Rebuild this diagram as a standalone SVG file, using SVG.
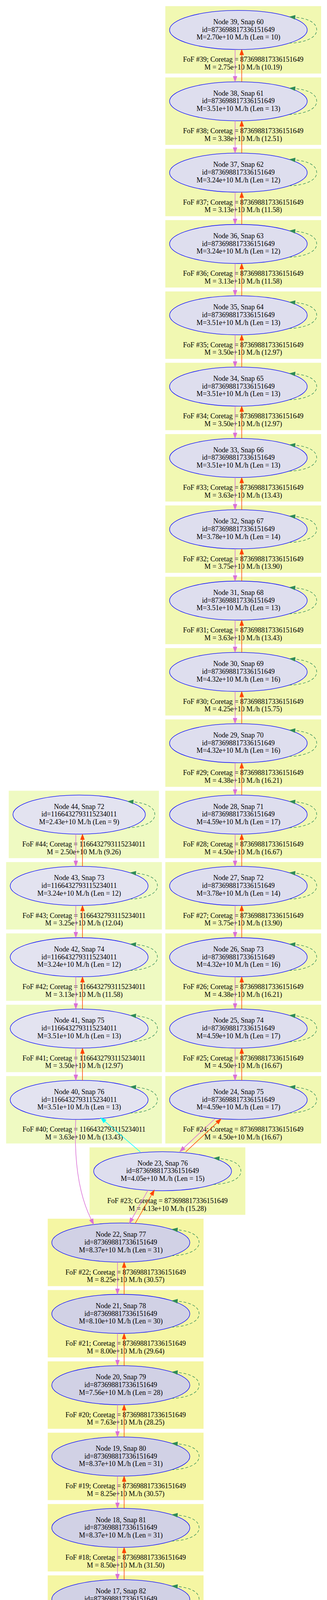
<svg xmlns="http://www.w3.org/2000/svg" xmlns:xlink="http://www.w3.org/1999/xlink" width="837" height="7326" viewBox="0 0 837 7326">
<style>
.c1{fill:#F1F8B2}
.c2{fill:#EFFAC2}
.c3{fill:#F5F6A3}
.e1{fill:#DEDEEE;stroke:#0000FF;stroke-width:1.3}
.e2{fill:#E3E3F0;stroke:#0000FF;stroke-width:1.3}
.e3{fill:#D1D1E5;stroke:#0000FF;stroke-width:1.3}
text{font-family:"Liberation Serif","Times New Roman",serif;font-size:18px;fill:#000;text-anchor:middle}
.pk{fill:none;stroke:#DA70D6;stroke-width:1.5;marker-end:url(#ap)}
.rd{fill:none;stroke:#FF4500;stroke-width:1.5;marker-end:url(#ar)}
.cy{fill:none;stroke:#00FFFF;stroke-width:1.5;marker-end:url(#ac)}
.lp{fill:none;stroke:#2E8B57;stroke-width:1.3;stroke-dasharray:7,5;marker-end:url(#ag)}
</style>
<defs>
<marker id="ap" markerUnits="userSpaceOnUse" markerWidth="16" markerHeight="12" viewBox="0 -6 16 12" refX="0" refY="0" orient="auto" overflow="visible"><path d="M0,-5L14,0L0,5Z" fill="#DA70D6" stroke="#DA70D6"/></marker>
<marker id="ar" markerUnits="userSpaceOnUse" markerWidth="16" markerHeight="12" viewBox="0 -6 16 12" refX="0" refY="0" orient="auto" overflow="visible"><path d="M0,-5L14,0L0,5Z" fill="#FF4500" stroke="#FF4500"/></marker>
<marker id="ac" markerUnits="userSpaceOnUse" markerWidth="16" markerHeight="12" viewBox="0 -6 16 12" refX="0" refY="0" orient="auto" overflow="visible"><path d="M0,-5L14,0L0,5Z" fill="#00FFFF" stroke="#00FFFF"/></marker>
<marker id="ag" markerUnits="userSpaceOnUse" markerWidth="16" markerHeight="12" viewBox="0 -6 16 12" refX="0" refY="0" orient="auto" overflow="visible"><path d="M0,-5L14,0L0,5Z" fill="#2E8B57" stroke="#2E8B57"/></marker>
<path id="vp" class="pk" d="M-8.5,50V118.6"/>
<path id="vr" class="rd" d="M8.5,132.6V64"/>
<path id="lp" class="lp" d="M129.7,33.8C165,33 200.4,22 200.4,0C200.4,-20 175,-30 145,-32.5"/>
</defs>

<g id="nodes">
<g id="n39" transform="translate(610.2,76.7)"><rect class="c1" x="-187" y="-61" width="398.8" height="172.6"/><ellipse class="e1" rx="176.2" ry="50"/><text><tspan x="0" y="-14.8">Node 39, Snap 60</tspan><tspan x="0" y="5">id=873698817336151649</tspan><tspan x="0" y="24.8">M=2.70e+10 M./h (Len = 10)</tspan></text><text><tspan x="12.4" y="81.7">FoF #39; Coretag = 873698817336151649</tspan><tspan x="12.4" y="101.4">M = 2.75e+10 M./h (10.19)</tspan></text></g>
<g id="n38" transform="translate(610.2,259.3)"><rect class="c1" x="-187" y="-61" width="398.8" height="172.6"/><ellipse class="e1" rx="176.2" ry="50"/><text><tspan x="0" y="-14.8">Node 38, Snap 61</tspan><tspan x="0" y="5">id=873698817336151649</tspan><tspan x="0" y="24.8">M=3.51e+10 M./h (Len = 13)</tspan></text><text><tspan x="12.4" y="81.7">FoF #38; Coretag = 873698817336151649</tspan><tspan x="12.4" y="101.4">M = 3.38e+10 M./h (12.51)</tspan></text></g>
<g id="n37" transform="translate(610.2,441.9)"><rect class="c1" x="-187" y="-61" width="398.8" height="172.6"/><ellipse class="e1" rx="176.2" ry="50"/><text><tspan x="0" y="-14.8">Node 37, Snap 62</tspan><tspan x="0" y="5">id=873698817336151649</tspan><tspan x="0" y="24.8">M=3.24e+10 M./h (Len = 12)</tspan></text><text><tspan x="12.4" y="81.7">FoF #37; Coretag = 873698817336151649</tspan><tspan x="12.4" y="101.4">M = 3.13e+10 M./h (11.58)</tspan></text></g>
<g id="n36" transform="translate(610.2,624.5)"><rect class="c1" x="-187" y="-61" width="398.8" height="172.6"/><ellipse class="e1" rx="176.2" ry="50"/><text><tspan x="0" y="-14.8">Node 36, Snap 63</tspan><tspan x="0" y="5">id=873698817336151649</tspan><tspan x="0" y="24.8">M=3.24e+10 M./h (Len = 12)</tspan></text><text><tspan x="12.4" y="81.7">FoF #36; Coretag = 873698817336151649</tspan><tspan x="12.4" y="101.4">M = 3.13e+10 M./h (11.58)</tspan></text></g>
<g id="n35" transform="translate(610.2,807.1)"><rect class="c1" x="-187" y="-61" width="398.8" height="172.6"/><ellipse class="e1" rx="176.2" ry="50"/><text><tspan x="0" y="-14.8">Node 35, Snap 64</tspan><tspan x="0" y="5">id=873698817336151649</tspan><tspan x="0" y="24.8">M=3.51e+10 M./h (Len = 13)</tspan></text><text><tspan x="12.4" y="81.7">FoF #35; Coretag = 873698817336151649</tspan><tspan x="12.4" y="101.4">M = 3.50e+10 M./h (12.97)</tspan></text></g>
<g id="n34" transform="translate(610.2,989.7)"><rect class="c1" x="-187" y="-61" width="398.8" height="172.6"/><ellipse class="e1" rx="176.2" ry="50"/><text><tspan x="0" y="-14.8">Node 34, Snap 65</tspan><tspan x="0" y="5">id=873698817336151649</tspan><tspan x="0" y="24.8">M=3.51e+10 M./h (Len = 13)</tspan></text><text><tspan x="12.4" y="81.7">FoF #34; Coretag = 873698817336151649</tspan><tspan x="12.4" y="101.4">M = 3.50e+10 M./h (12.97)</tspan></text></g>
<g id="n33" transform="translate(610.2,1172.3)"><rect class="c1" x="-187" y="-61" width="398.8" height="172.6"/><ellipse class="e1" rx="176.2" ry="50"/><text><tspan x="0" y="-14.8">Node 33, Snap 66</tspan><tspan x="0" y="5">id=873698817336151649</tspan><tspan x="0" y="24.8">M=3.51e+10 M./h (Len = 13)</tspan></text><text><tspan x="12.4" y="81.7">FoF #33; Coretag = 873698817336151649</tspan><tspan x="12.4" y="101.4">M = 3.63e+10 M./h (13.43)</tspan></text></g>
<g id="n32" transform="translate(610.2,1354.9)"><rect class="c1" x="-187" y="-61" width="398.8" height="172.6"/><ellipse class="e1" rx="176.2" ry="50"/><text><tspan x="0" y="-14.8">Node 32, Snap 67</tspan><tspan x="0" y="5">id=873698817336151649</tspan><tspan x="0" y="24.8">M=3.78e+10 M./h (Len = 14)</tspan></text><text><tspan x="12.4" y="81.7">FoF #32; Coretag = 873698817336151649</tspan><tspan x="12.4" y="101.4">M = 3.75e+10 M./h (13.90)</tspan></text></g>
<g id="n31" transform="translate(610.2,1537.5)"><rect class="c1" x="-187" y="-61" width="398.8" height="172.6"/><ellipse class="e1" rx="176.2" ry="50"/><text><tspan x="0" y="-14.8">Node 31, Snap 68</tspan><tspan x="0" y="5">id=873698817336151649</tspan><tspan x="0" y="24.8">M=3.51e+10 M./h (Len = 13)</tspan></text><text><tspan x="12.4" y="81.7">FoF #31; Coretag = 873698817336151649</tspan><tspan x="12.4" y="101.4">M = 3.63e+10 M./h (13.43)</tspan></text></g>
<g id="n30" transform="translate(610.2,1720.1)"><rect class="c1" x="-187" y="-61" width="398.8" height="172.6"/><ellipse class="e1" rx="176.2" ry="50"/><text><tspan x="0" y="-14.8">Node 30, Snap 69</tspan><tspan x="0" y="5">id=873698817336151649</tspan><tspan x="0" y="24.8">M=4.32e+10 M./h (Len = 16)</tspan></text><text><tspan x="12.4" y="81.7">FoF #30; Coretag = 873698817336151649</tspan><tspan x="12.4" y="101.4">M = 4.25e+10 M./h (15.75)</tspan></text></g>
<g id="n29" transform="translate(610.2,1902.7)"><rect class="c1" x="-187" y="-61" width="398.8" height="172.6"/><ellipse class="e1" rx="176.2" ry="50"/><text><tspan x="0" y="-14.8">Node 29, Snap 70</tspan><tspan x="0" y="5">id=873698817336151649</tspan><tspan x="0" y="24.8">M=4.32e+10 M./h (Len = 16)</tspan></text><text><tspan x="12.4" y="81.7">FoF #29; Coretag = 873698817336151649</tspan><tspan x="12.4" y="101.4">M = 4.38e+10 M./h (16.21)</tspan></text></g>
<g id="n28" transform="translate(610.2,2085.3)"><rect class="c1" x="-187" y="-61" width="398.8" height="172.6"/><ellipse class="e1" rx="176.2" ry="50"/><text><tspan x="0" y="-14.8">Node 28, Snap 71</tspan><tspan x="0" y="5">id=873698817336151649</tspan><tspan x="0" y="24.8">M=4.59e+10 M./h (Len = 17)</tspan></text><text><tspan x="12.4" y="81.7">FoF #28; Coretag = 873698817336151649</tspan><tspan x="12.4" y="101.4">M = 4.50e+10 M./h (16.67)</tspan></text></g>
<g id="n27" transform="translate(610.2,2267.9)"><rect class="c1" x="-187" y="-61" width="398.8" height="172.6"/><ellipse class="e1" rx="176.2" ry="50"/><text><tspan x="0" y="-14.8">Node 27, Snap 72</tspan><tspan x="0" y="5">id=873698817336151649</tspan><tspan x="0" y="24.8">M=3.78e+10 M./h (Len = 14)</tspan></text><text><tspan x="12.4" y="81.7">FoF #27; Coretag = 873698817336151649</tspan><tspan x="12.4" y="101.4">M = 3.75e+10 M./h (13.90)</tspan></text></g>
<g id="n26" transform="translate(610.2,2450.5)"><rect class="c1" x="-187" y="-61" width="398.8" height="172.6"/><ellipse class="e1" rx="176.2" ry="50"/><text><tspan x="0" y="-14.8">Node 26, Snap 73</tspan><tspan x="0" y="5">id=873698817336151649</tspan><tspan x="0" y="24.8">M=4.32e+10 M./h (Len = 16)</tspan></text><text><tspan x="12.4" y="81.7">FoF #26; Coretag = 873698817336151649</tspan><tspan x="12.4" y="101.4">M = 4.38e+10 M./h (16.21)</tspan></text></g>
<g id="n25" transform="translate(610.2,2633.1)"><rect class="c1" x="-187" y="-61" width="398.8" height="172.6"/><ellipse class="e1" rx="176.2" ry="50"/><text><tspan x="0" y="-14.8">Node 25, Snap 74</tspan><tspan x="0" y="5">id=873698817336151649</tspan><tspan x="0" y="24.8">M=4.59e+10 M./h (Len = 17)</tspan></text><text><tspan x="12.4" y="81.7">FoF #25; Coretag = 873698817336151649</tspan><tspan x="12.4" y="101.4">M = 4.50e+10 M./h (16.67)</tspan></text></g>
<g id="n24" transform="translate(610.2,2815.7)"><rect class="c1" x="-187" y="-61" width="398.8" height="172.6"/><ellipse class="e1" rx="176.2" ry="50"/><text><tspan x="0" y="-14.8">Node 24, Snap 75</tspan><tspan x="0" y="5">id=873698817336151649</tspan><tspan x="0" y="24.8">M=4.59e+10 M./h (Len = 17)</tspan></text><text><tspan x="12.4" y="81.7">FoF #24; Coretag = 873698817336151649</tspan><tspan x="12.4" y="101.4">M = 4.50e+10 M./h (16.67)</tspan></text></g>

<g id="n44" transform="translate(202.6,2085.3)"><rect class="c2" x="-180.2" y="-61" width="384.4" height="172.6"/><ellipse class="e2" rx="169.5" ry="50"/><text><tspan x="0" y="-14.8">Node 44, Snap 72</tspan><tspan x="0" y="5">id=1166432793115234011</tspan><tspan x="0" y="24.8">M=2.43e+10 M./h (Len = 9)</tspan></text><text><tspan x="12" y="81.7">FoF #44; Coretag = 1166432793115234011</tspan><tspan x="12" y="101.4">M = 2.50e+10 M./h (9.26)</tspan></text></g>
<g id="n43" transform="translate(202.6,2267.9)"><rect class="c2" x="-187" y="-61" width="398.8" height="172.6"/><ellipse class="e2" rx="176.5" ry="50"/><text><tspan x="0" y="-14.8">Node 43, Snap 73</tspan><tspan x="0" y="5">id=1166432793115234011</tspan><tspan x="0" y="24.8">M=3.24e+10 M./h (Len = 12)</tspan></text><text><tspan x="12.4" y="81.7">FoF #43; Coretag = 1166432793115234011</tspan><tspan x="12.4" y="101.4">M = 3.25e+10 M./h (12.04)</tspan></text></g>
<g id="n42" transform="translate(202.6,2450.5)"><rect class="c2" x="-187" y="-61" width="398.8" height="172.6"/><ellipse class="e2" rx="176.5" ry="50"/><text><tspan x="0" y="-14.8">Node 42, Snap 74</tspan><tspan x="0" y="5">id=1166432793115234011</tspan><tspan x="0" y="24.8">M=3.24e+10 M./h (Len = 12)</tspan></text><text><tspan x="12.4" y="81.7">FoF #42; Coretag = 1166432793115234011</tspan><tspan x="12.4" y="101.4">M = 3.13e+10 M./h (11.58)</tspan></text></g>
<g id="n41" transform="translate(202.6,2633.1)"><rect class="c2" x="-187" y="-61" width="398.8" height="172.6"/><ellipse class="e2" rx="176.5" ry="50"/><text><tspan x="0" y="-14.8">Node 41, Snap 75</tspan><tspan x="0" y="5">id=1166432793115234011</tspan><tspan x="0" y="24.8">M=3.51e+10 M./h (Len = 13)</tspan></text><text><tspan x="12.4" y="81.7">FoF #41; Coretag = 1166432793115234011</tspan><tspan x="12.4" y="101.4">M = 3.50e+10 M./h (12.97)</tspan></text></g>
<g id="n40" transform="translate(202.6,2815.7)"><rect class="c2" x="-187" y="-61" width="398.8" height="172.6"/><ellipse class="e2" rx="176.5" ry="50"/><text><tspan x="0" y="-14.8">Node 40, Snap 76</tspan><tspan x="0" y="5">id=1166432793115234011</tspan><tspan x="0" y="24.8">M=3.51e+10 M./h (Len = 13)</tspan></text><text><tspan x="12.4" y="81.7">FoF #40; Coretag = 1166432793115234011</tspan><tspan x="12.4" y="101.4">M = 3.63e+10 M./h (13.43)</tspan></text></g>

<g id="n23" transform="translate(416.2,2998.3)"><rect class="c1" x="-187" y="-61" width="398.8" height="172.6"/><ellipse class="e1" rx="176.5" ry="50"/><text><tspan x="0" y="-14.8">Node 23, Snap 76</tspan><tspan x="0" y="5">id=873698817336151649</tspan><tspan x="0" y="24.8">M=4.05e+10 M./h (Len = 15)</tspan></text><text><tspan x="12.4" y="81.7">FoF #23; Coretag = 873698817336151649</tspan><tspan x="12.4" y="101.4">M = 4.13e+10 M./h (15.28)</tspan></text></g>

<g id="n22" transform="translate(309.2,3180.9)"><rect class="c3" x="-187" y="-61" width="398.8" height="172.6"/><ellipse class="e3" rx="176.7" ry="50"/><text><tspan x="0" y="-14.8">Node 22, Snap 77</tspan><tspan x="0" y="5">id=873698817336151649</tspan><tspan x="0" y="24.8">M=8.37e+10 M./h (Len = 31)</tspan></text><text><tspan x="12.4" y="81.7">FoF #22; Coretag = 873698817336151649</tspan><tspan x="12.4" y="101.4">M = 8.25e+10 M./h (30.57)</tspan></text></g>
<g id="n21" transform="translate(309.2,3363.5)"><rect class="c3" x="-187" y="-61" width="398.8" height="172.6"/><ellipse class="e3" rx="176.7" ry="50"/><text><tspan x="0" y="-14.8">Node 21, Snap 78</tspan><tspan x="0" y="5">id=873698817336151649</tspan><tspan x="0" y="24.8">M=8.10e+10 M./h (Len = 30)</tspan></text><text><tspan x="12.4" y="81.7">FoF #21; Coretag = 873698817336151649</tspan><tspan x="12.4" y="101.4">M = 8.00e+10 M./h (29.64)</tspan></text></g>
<g id="n20" transform="translate(309.2,3546.1)"><rect class="c3" x="-187" y="-61" width="398.8" height="172.6"/><ellipse class="e3" rx="176.7" ry="50"/><text><tspan x="0" y="-14.8">Node 20, Snap 79</tspan><tspan x="0" y="5">id=873698817336151649</tspan><tspan x="0" y="24.8">M=7.56e+10 M./h (Len = 28)</tspan></text><text><tspan x="12.4" y="81.7">FoF #20; Coretag = 873698817336151649</tspan><tspan x="12.4" y="101.4">M = 7.63e+10 M./h (28.25)</tspan></text></g>
<g id="n19" transform="translate(309.2,3728.7)"><rect class="c3" x="-187" y="-61" width="398.8" height="172.6"/><ellipse class="e3" rx="176.7" ry="50"/><text><tspan x="0" y="-14.8">Node 19, Snap 80</tspan><tspan x="0" y="5">id=873698817336151649</tspan><tspan x="0" y="24.8">M=8.37e+10 M./h (Len = 31)</tspan></text><text><tspan x="12.4" y="81.7">FoF #19; Coretag = 873698817336151649</tspan><tspan x="12.4" y="101.4">M = 8.25e+10 M./h (30.57)</tspan></text></g>
<g id="n18" transform="translate(309.2,3911.3)"><rect class="c3" x="-187" y="-61" width="398.8" height="172.6"/><ellipse class="e3" rx="176.7" ry="50"/><text><tspan x="0" y="-14.8">Node 18, Snap 81</tspan><tspan x="0" y="5">id=873698817336151649</tspan><tspan x="0" y="24.8">M=8.37e+10 M./h (Len = 31)</tspan></text><text><tspan x="12.4" y="81.7">FoF #18; Coretag = 873698817336151649</tspan><tspan x="12.4" y="101.4">M = 8.50e+10 M./h (31.50)</tspan></text></g>
<g id="n17" transform="translate(309.2,4093.9)"><rect class="c3" x="-187" y="-61" width="398.8" height="172.6"/><ellipse class="e3" rx="176.7" ry="50"/><text><tspan x="0" y="-14.8">Node 17, Snap 82</tspan><tspan x="0" y="5">id=873698817336151649</tspan><tspan x="0" y="24.8">M=8.37e+10 M./h (Len = 31)</tspan></text><text><tspan x="12.4" y="81.7">FoF #17; Coretag = 873698817336151649</tspan><tspan x="12.4" y="101.4">M = 8.50e+10 M./h (31.50)</tspan></text></g>
<g id="n16" transform="translate(309.2,4276.5)"><rect class="c3" x="-187" y="-61" width="398.8" height="172.6"/><ellipse class="e3" rx="176.7" ry="50"/><text><tspan x="0" y="-14.8">Node 16, Snap 83</tspan><tspan x="0" y="5">id=873698817336151649</tspan><tspan x="0" y="24.8">M=8.10e+10 M./h (Len = 30)</tspan></text><text><tspan x="12.4" y="81.7">FoF #16; Coretag = 873698817336151649</tspan><tspan x="12.4" y="101.4">M = 8.13e+10 M./h (30.11)</tspan></text></g>
<g id="n15" transform="translate(309.2,4459.1)"><rect class="c3" x="-187" y="-61" width="398.8" height="172.6"/><ellipse class="e3" rx="176.7" ry="50"/><text><tspan x="0" y="-14.8">Node 15, Snap 84</tspan><tspan x="0" y="5">id=873698817336151649</tspan><tspan x="0" y="24.8">M=8.37e+10 M./h (Len = 31)</tspan></text><text><tspan x="12.4" y="81.7">FoF #15; Coretag = 873698817336151649</tspan><tspan x="12.4" y="101.4">M = 8.38e+10 M./h (31.03)</tspan></text></g>
<g id="n14" transform="translate(309.2,4641.7)"><rect class="c3" x="-187" y="-61" width="398.8" height="172.6"/><ellipse class="e3" rx="176.7" ry="50"/><text><tspan x="0" y="-14.8">Node 14, Snap 85</tspan><tspan x="0" y="5">id=873698817336151649</tspan><tspan x="0" y="24.8">M=8.37e+10 M./h (Len = 31)</tspan></text><text><tspan x="12.4" y="81.7">FoF #14; Coretag = 873698817336151649</tspan><tspan x="12.4" y="101.4">M = 8.50e+10 M./h (31.50)</tspan></text></g>
<g id="n13" transform="translate(309.2,4824.3)"><rect class="c3" x="-187" y="-61" width="398.8" height="172.6"/><ellipse class="e3" rx="176.7" ry="50"/><text><tspan x="0" y="-14.8">Node 13, Snap 86</tspan><tspan x="0" y="5">id=873698817336151649</tspan><tspan x="0" y="24.8">M=9.18e+10 M./h (Len = 34)</tspan></text><text><tspan x="12.4" y="81.7">FoF #13; Coretag = 873698817336151649</tspan><tspan x="12.4" y="101.4">M = 9.13e+10 M./h (33.81)</tspan></text></g>
<g id="n12" transform="translate(309.2,5006.9)"><rect class="c3" x="-187" y="-61" width="398.8" height="172.6"/><ellipse class="e3" rx="176.7" ry="50"/><text><tspan x="0" y="-14.8">Node 12, Snap 87</tspan><tspan x="0" y="5">id=873698817336151649</tspan><tspan x="0" y="24.8">M=9.45e+10 M./h (Len = 35)</tspan></text><text><tspan x="12.4" y="81.7">FoF #12; Coretag = 873698817336151649</tspan><tspan x="12.4" y="101.4">M = 9.50e+10 M./h (35.20)</tspan></text></g>
<g id="n11" transform="translate(309.2,5189.5)"><rect class="c3" x="-187" y="-61" width="398.8" height="172.6"/><ellipse class="e3" rx="176.7" ry="50"/><text><tspan x="0" y="-14.8">Node 11, Snap 88</tspan><tspan x="0" y="5">id=873698817336151649</tspan><tspan x="0" y="24.8">M=9.99e+10 M./h (Len = 37)</tspan></text><text><tspan x="12.4" y="81.7">FoF #11; Coretag = 873698817336151649</tspan><tspan x="12.4" y="101.4">M = 1.00e+11 M./h (37.05)</tspan></text></g>
<g id="n10" transform="translate(309.2,5372.1)"><rect class="c3" x="-187" y="-61" width="398.8" height="172.6"/><ellipse class="e3" rx="176.7" ry="50"/><text><tspan x="0" y="-14.8">Node 10, Snap 89</tspan><tspan x="0" y="5">id=873698817336151649</tspan><tspan x="0" y="24.8">M=9.99e+10 M./h (Len = 37)</tspan></text><text><tspan x="12.4" y="81.7">FoF #10; Coretag = 873698817336151649</tspan><tspan x="12.4" y="101.4">M = 1.00e+11 M./h (37.05)</tspan></text></g>
<g id="n9" transform="translate(309.2,5554.7)"><rect class="c3" x="-187" y="-61" width="398.8" height="172.6"/><ellipse class="e3" rx="176.7" ry="50"/><text><tspan x="0" y="-14.8">Node 9, Snap 90</tspan><tspan x="0" y="5">id=873698817336151649</tspan><tspan x="0" y="24.8">M=8.91e+10 M./h (Len = 33)</tspan></text><text><tspan x="12.4" y="81.7">FoF #9; Coretag = 873698817336151649</tspan><tspan x="12.4" y="101.4">M = 9.00e+10 M./h (33.35)</tspan></text></g>
<g id="n8" transform="translate(309.2,5737.3)"><rect class="c3" x="-187" y="-61" width="398.8" height="172.6"/><ellipse class="e3" rx="176.7" ry="50"/><text><tspan x="0" y="-14.8">Node 8, Snap 91</tspan><tspan x="0" y="5">id=873698817336151649</tspan><tspan x="0" y="24.8">M=8.37e+10 M./h (Len = 31)</tspan></text><text><tspan x="12.4" y="81.7">FoF #8; Coretag = 873698817336151649</tspan><tspan x="12.4" y="101.4">M = 8.50e+10 M./h (31.50)</tspan></text></g>
<g id="n7" transform="translate(309.2,5919.9)"><rect class="c3" x="-187" y="-61" width="398.8" height="172.6"/><ellipse class="e3" rx="176.7" ry="50"/><text><tspan x="0" y="-14.8">Node 7, Snap 92</tspan><tspan x="0" y="5">id=873698817336151649</tspan><tspan x="0" y="24.8">M=8.64e+10 M./h (Len = 32)</tspan></text><text><tspan x="12.4" y="81.7">FoF #7; Coretag = 873698817336151649</tspan><tspan x="12.4" y="101.4">M = 8.75e+10 M./h (32.42)</tspan></text></g>
<g id="n6" transform="translate(309.2,6102.5)"><rect class="c3" x="-187" y="-61" width="398.8" height="172.6"/><ellipse class="e3" rx="176.7" ry="50"/><text><tspan x="0" y="-14.8">Node 6, Snap 93</tspan><tspan x="0" y="5">id=873698817336151649</tspan><tspan x="0" y="24.8">M=8.91e+10 M./h (Len = 33)</tspan></text><text><tspan x="12.4" y="81.7">FoF #6; Coretag = 873698817336151649</tspan><tspan x="12.4" y="101.4">M = 9.00e+10 M./h (33.35)</tspan></text></g>
<g id="n5" transform="translate(309.2,6285.1)"><rect class="c3" x="-187" y="-61" width="398.8" height="172.6"/><ellipse class="e3" rx="176.7" ry="50"/><text><tspan x="0" y="-14.8">Node 5, Snap 94</tspan><tspan x="0" y="5">id=873698817336151649</tspan><tspan x="0" y="24.8">M=8.37e+10 M./h (Len = 31)</tspan></text><text><tspan x="12.4" y="81.7">FoF #5; Coretag = 873698817336151649</tspan><tspan x="12.4" y="101.4">M = 8.50e+10 M./h (31.50)</tspan></text></g>
<g id="n4" transform="translate(309.2,6467.7)"><rect class="c3" x="-187" y="-61" width="398.8" height="172.6"/><ellipse class="e3" rx="176.7" ry="50"/><text><tspan x="0" y="-14.8">Node 4, Snap 95</tspan><tspan x="0" y="5">id=873698817336151649</tspan><tspan x="0" y="24.8">M=8.64e+10 M./h (Len = 32)</tspan></text><text><tspan x="12.4" y="81.7">FoF #4; Coretag = 873698817336151649</tspan><tspan x="12.4" y="101.4">M = 8.63e+10 M./h (31.96)</tspan></text></g>
<g id="n3" transform="translate(309.2,6650.3)"><rect class="c3" x="-187" y="-61" width="398.8" height="172.6"/><ellipse class="e3" rx="176.7" ry="50"/><text><tspan x="0" y="-14.8">Node 3, Snap 96</tspan><tspan x="0" y="5">id=873698817336151649</tspan><tspan x="0" y="24.8">M=8.64e+10 M./h (Len = 32)</tspan></text><text><tspan x="12.4" y="81.7">FoF #3; Coretag = 873698817336151649</tspan><tspan x="12.4" y="101.4">M = 8.63e+10 M./h (31.96)</tspan></text></g>
<g id="n2" transform="translate(309.2,6832.9)"><rect class="c3" x="-187" y="-61" width="398.8" height="172.6"/><ellipse class="e3" rx="176.7" ry="50"/><text><tspan x="0" y="-14.8">Node 2, Snap 97</tspan><tspan x="0" y="5">id=873698817336151649</tspan><tspan x="0" y="24.8">M=9.99e+10 M./h (Len = 37)</tspan></text><text><tspan x="12.4" y="81.7">FoF #2; Coretag = 873698817336151649</tspan><tspan x="12.4" y="101.4">M = 1.00e+11 M./h (37.05)</tspan></text></g>
<g id="n1" transform="translate(309.2,7015.5)"><rect class="c3" x="-187" y="-61" width="398.8" height="172.6"/><ellipse class="e3" rx="176.7" ry="50"/><text><tspan x="0" y="-14.8">Node 1, Snap 98</tspan><tspan x="0" y="5">id=873698817336151649</tspan><tspan x="0" y="24.8">M=9.72e+10 M./h (Len = 36)</tspan></text><text><tspan x="12.4" y="81.7">FoF #1; Coretag = 873698817336151649</tspan><tspan x="12.4" y="101.4">M = 9.63e+10 M./h (35.66)</tspan></text></g>
<g id="n0" transform="translate(309.2,7198.1)"><rect class="c3" x="-187" y="-61" width="398.8" height="172.6"/><ellipse class="e3" rx="176.7" ry="50"/><text><tspan x="0" y="-14.8">Node 0, Snap 99</tspan><tspan x="0" y="5">id=873698817336151649</tspan><tspan x="0" y="24.8">M=8.37e+10 M./h (Len = 31)</tspan></text><text><tspan x="12.4" y="81.7">FoF #0; Coretag = 873698817336151649</tspan><tspan x="12.4" y="101.4">M = 8.38e+10 M./h (31.03)</tspan></text></g>
</g>

<g id="connectors">
<g id="selfloops">
<use xlink:href="#lp" x="610.2" y="76.7"/><use xlink:href="#lp" x="610.2" y="259.3"/><use xlink:href="#lp" x="610.2" y="441.9"/><use xlink:href="#lp" x="610.2" y="624.5"/><use xlink:href="#lp" x="610.2" y="807.1"/><use xlink:href="#lp" x="610.2" y="989.7"/><use xlink:href="#lp" x="610.2" y="1172.3"/><use xlink:href="#lp" x="610.2" y="1354.9"/><use xlink:href="#lp" x="610.2" y="1537.5"/><use xlink:href="#lp" x="610.2" y="1720.1"/><use xlink:href="#lp" x="610.2" y="1902.7"/><use xlink:href="#lp" x="610.2" y="2085.3"/><use xlink:href="#lp" x="610.2" y="2267.9"/><use xlink:href="#lp" x="610.2" y="2450.5"/><use xlink:href="#lp" x="610.2" y="2633.1"/><use xlink:href="#lp" x="610.2" y="2815.7"/>
<use xlink:href="#lp" x="195.9" y="2085.3"/><use xlink:href="#lp" x="202.6" y="2267.9"/><use xlink:href="#lp" x="202.6" y="2450.5"/><use xlink:href="#lp" x="202.6" y="2633.1"/><use xlink:href="#lp" x="202.6" y="2815.7"/>
<use xlink:href="#lp" x="416.2" y="2998.3"/>
<use xlink:href="#lp" x="309.2" y="3180.9"/><use xlink:href="#lp" x="309.2" y="3363.5"/><use xlink:href="#lp" x="309.2" y="3546.1"/><use xlink:href="#lp" x="309.2" y="3728.7"/><use xlink:href="#lp" x="309.2" y="3911.3"/><use xlink:href="#lp" x="309.2" y="4093.9"/><use xlink:href="#lp" x="309.2" y="4276.5"/><use xlink:href="#lp" x="309.2" y="4459.1"/><use xlink:href="#lp" x="309.2" y="4641.7"/><use xlink:href="#lp" x="309.2" y="4824.3"/><use xlink:href="#lp" x="309.2" y="5006.9"/><use xlink:href="#lp" x="309.2" y="5189.5"/><use xlink:href="#lp" x="309.2" y="5372.1"/><use xlink:href="#lp" x="309.2" y="5554.7"/><use xlink:href="#lp" x="309.2" y="5737.3"/><use xlink:href="#lp" x="309.2" y="5919.9"/><use xlink:href="#lp" x="309.2" y="6102.5"/><use xlink:href="#lp" x="309.2" y="6285.1"/><use xlink:href="#lp" x="309.2" y="6467.7"/><use xlink:href="#lp" x="309.2" y="6650.3"/><use xlink:href="#lp" x="309.2" y="6832.9"/><use xlink:href="#lp" x="309.2" y="7015.5"/><use xlink:href="#lp" x="309.2" y="7198.1"/>
</g>
<g id="descendant-edges">
<use xlink:href="#vp" x="610.2" y="76.7"/><use xlink:href="#vp" x="610.2" y="259.3"/><use xlink:href="#vp" x="610.2" y="441.9"/><use xlink:href="#vp" x="610.2" y="624.5"/><use xlink:href="#vp" x="610.2" y="807.1"/><use xlink:href="#vp" x="610.2" y="989.7"/><use xlink:href="#vp" x="610.2" y="1172.3"/><use xlink:href="#vp" x="610.2" y="1354.9"/><use xlink:href="#vp" x="610.2" y="1537.5"/><use xlink:href="#vp" x="610.2" y="1720.1"/><use xlink:href="#vp" x="610.2" y="1902.7"/><use xlink:href="#vp" x="610.2" y="2085.3"/><use xlink:href="#vp" x="610.2" y="2267.9"/><use xlink:href="#vp" x="610.2" y="2450.5"/><use xlink:href="#vp" x="610.2" y="2633.1"/>
<use xlink:href="#vp" x="202.6" y="2085.3"/><use xlink:href="#vp" x="202.6" y="2267.9"/><use xlink:href="#vp" x="202.6" y="2450.5"/><use xlink:href="#vp" x="202.6" y="2633.1"/>
<use xlink:href="#vp" x="309.2" y="3180.9"/><use xlink:href="#vp" x="309.2" y="3363.5"/><use xlink:href="#vp" x="309.2" y="3546.1"/><use xlink:href="#vp" x="309.2" y="3728.7"/><use xlink:href="#vp" x="309.2" y="3911.3"/><use xlink:href="#vp" x="309.2" y="4093.9"/><use xlink:href="#vp" x="309.2" y="4276.5"/><use xlink:href="#vp" x="309.2" y="4459.1"/><use xlink:href="#vp" x="309.2" y="4641.7"/><use xlink:href="#vp" x="309.2" y="4824.3"/><use xlink:href="#vp" x="309.2" y="5006.9"/><use xlink:href="#vp" x="309.2" y="5189.5"/><use xlink:href="#vp" x="309.2" y="5372.1"/><use xlink:href="#vp" x="309.2" y="5554.7"/><use xlink:href="#vp" x="309.2" y="5737.3"/><use xlink:href="#vp" x="309.2" y="5919.9"/><use xlink:href="#vp" x="309.2" y="6102.5"/><use xlink:href="#vp" x="309.2" y="6285.1"/><use xlink:href="#vp" x="309.2" y="6467.7"/><use xlink:href="#vp" x="309.2" y="6650.3"/><use xlink:href="#vp" x="309.2" y="6832.9"/><use xlink:href="#vp" x="309.2" y="7015.5"/>
<path class="pk" d="M550,2864.3L470.4,2938.6"/>
<path class="pk" d="M379.1,3046.4L337.9,3119.8"/>
<path class="pk" d="M193.8,2866C190,2960 198,3050 233.5,3122"/>
</g>
<g id="progenitor-edges">
<use xlink:href="#vr" x="610.2" y="76.7"/><use xlink:href="#vr" x="610.2" y="259.3"/><use xlink:href="#vr" x="610.2" y="441.9"/><use xlink:href="#vr" x="610.2" y="624.5"/><use xlink:href="#vr" x="610.2" y="807.1"/><use xlink:href="#vr" x="610.2" y="989.7"/><use xlink:href="#vr" x="610.2" y="1172.3"/><use xlink:href="#vr" x="610.2" y="1354.9"/><use xlink:href="#vr" x="610.2" y="1537.5"/><use xlink:href="#vr" x="610.2" y="1720.1"/><use xlink:href="#vr" x="610.2" y="1902.7"/><use xlink:href="#vr" x="610.2" y="2085.3"/><use xlink:href="#vr" x="610.2" y="2267.9"/><use xlink:href="#vr" x="610.2" y="2450.5"/><use xlink:href="#vr" x="610.2" y="2633.1"/>
<use xlink:href="#vr" x="202.6" y="2085.3"/><use xlink:href="#vr" x="202.6" y="2267.9"/><use xlink:href="#vr" x="202.6" y="2450.5"/><use xlink:href="#vr" x="202.6" y="2633.1"/>
<use xlink:href="#vr" x="309.2" y="3180.9"/><use xlink:href="#vr" x="309.2" y="3363.5"/><use xlink:href="#vr" x="309.2" y="3546.1"/><use xlink:href="#vr" x="309.2" y="3728.7"/><use xlink:href="#vr" x="309.2" y="3911.3"/><use xlink:href="#vr" x="309.2" y="4093.9"/><use xlink:href="#vr" x="309.2" y="4276.5"/><use xlink:href="#vr" x="309.2" y="4459.1"/><use xlink:href="#vr" x="309.2" y="4641.7"/><use xlink:href="#vr" x="309.2" y="4824.3"/><use xlink:href="#vr" x="309.2" y="5006.9"/><use xlink:href="#vr" x="309.2" y="5189.5"/><use xlink:href="#vr" x="309.2" y="5372.1"/><use xlink:href="#vr" x="309.2" y="5554.7"/><use xlink:href="#vr" x="309.2" y="5737.3"/><use xlink:href="#vr" x="309.2" y="5919.9"/><use xlink:href="#vr" x="309.2" y="6102.5"/><use xlink:href="#vr" x="309.2" y="6285.1"/><use xlink:href="#vr" x="309.2" y="6467.7"/><use xlink:href="#vr" x="309.2" y="6650.3"/><use xlink:href="#vr" x="309.2" y="6832.9"/><use xlink:href="#vr" x="309.2" y="7015.5"/>
<path class="rd" d="M475.2,2949L555.8,2873.9"/>
<path class="rd" d="M346,3132L388.1,3058.5"/>
</g>
<path id="e23-40" class="cy" d="M359.3,2949L268.5,2870.7"/>
</g>
</svg>
